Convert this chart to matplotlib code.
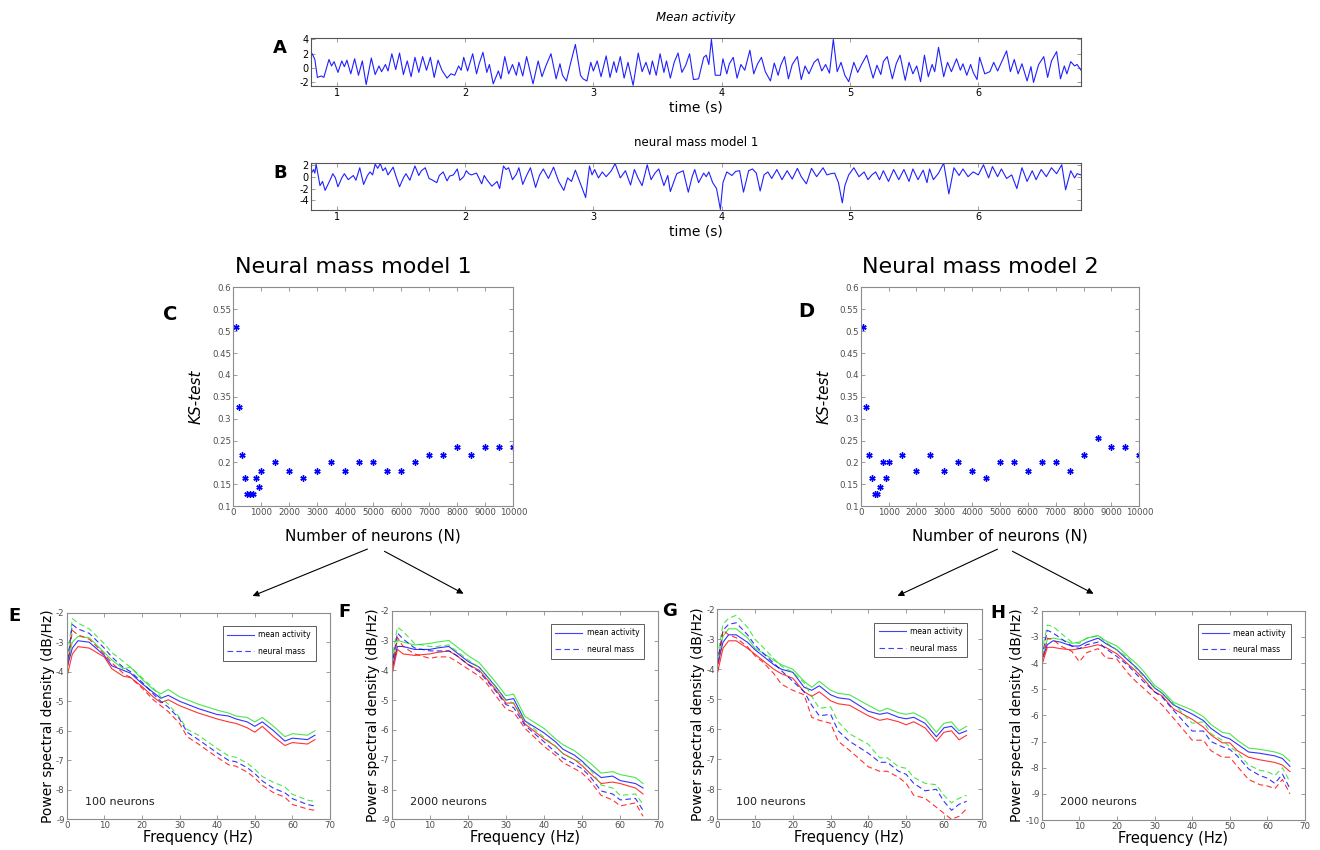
import matplotlib
matplotlib.use("Agg")
import matplotlib.pyplot as plt
import numpy as np
from matplotlib.patches import FancyArrowPatch

plt.rcParams["axes.unicode_minus"] = False

# ---- time traces (s, arbitrary units) ----
t_mean = [0.80, 0.81, 0.83, 0.85, 0.88, 0.90, 0.94, 0.96, 0.98, 1.01, 1.04, 1.06, 1.08, 1.11, 1.14, 1.17,
          1.20, 1.23, 1.27, 1.30, 1.33, 1.35, 1.38, 1.40, 1.43, 1.46, 1.49, 1.52, 1.55, 1.58, 1.61, 1.64,
          1.67, 1.70, 1.73, 1.76, 1.79, 1.82, 1.86, 1.89, 1.92, 1.95, 1.97, 1.99, 2.02, 2.06, 2.09, 2.11,
          2.14, 2.17, 2.19, 2.22, 2.26, 2.28, 2.31, 2.34, 2.37, 2.40, 2.42, 2.45, 2.48, 2.53, 2.57, 2.60,
          2.63, 2.67, 2.71, 2.74, 2.76, 2.79, 2.82, 2.86, 2.90, 2.92, 2.95, 2.98, 3.00, 3.03, 3.06, 3.10,
          3.13, 3.16, 3.18, 3.21, 3.24, 3.27, 3.31, 3.35, 3.38, 3.41, 3.44, 3.46, 3.49, 3.52, 3.55, 3.57,
          3.60, 3.63, 3.66, 3.69, 3.72, 3.75, 3.78, 3.82, 3.86, 3.88, 3.90, 3.92, 3.95, 3.99, 4.01, 4.04,
          4.06, 4.09, 4.12, 4.15, 4.18, 4.22, 4.25, 4.28, 4.31, 4.34, 4.38, 4.41, 4.44, 4.46, 4.49, 4.52,
          4.55, 4.59, 4.62, 4.65, 4.68, 4.72, 4.75, 4.78, 4.81, 4.84, 4.87, 4.90, 4.93, 4.96, 4.99, 5.03,
          5.06, 5.09, 5.13, 5.18, 5.21, 5.24, 5.26, 5.29, 5.33, 5.36, 5.39, 5.43, 5.46, 5.49, 5.52, 5.55,
          5.58, 5.61, 5.64, 5.66, 5.69, 5.73, 5.76, 5.79, 5.83, 5.86, 5.88, 5.91, 5.94, 5.96, 5.99, 6.01,
          6.05, 6.09, 6.12, 6.15, 6.19, 6.22, 6.25, 6.28, 6.31, 6.34, 6.38, 6.41, 6.43, 6.47, 6.51, 6.54,
          6.57, 6.61, 6.64, 6.67, 6.69, 6.72, 6.75, 6.77, 6.80]
v_mean = [1.6, 2.0, 1.2, -1.3, -1.1, -1.3, 1.2, 0.3, 0.9, -0.6, 1.0, 0.2, 1.1, -0.8, 1.3, -1.0,
          1.0, -2.3, 1.4, -0.9, 0.3, -0.5, 0.5, -0.4, 2.0, -0.2, 2.1, -0.9, 1.0, -1.2, 1.5, -0.6,
          1.6, -0.3, 1.5, -1.3, 1.1, -0.3, -1.4, -0.8, -1.0, 0.3, -0.3, 1.5, -0.4, 2.0, -0.8, 0.6,
          2.2, -0.6, 0.5, -2.2, -0.4, -1.5, 1.6, -0.8, 0.5, -1.0, 0.8, -1.1, 1.6, -2.2, 1.0, -1.2,
          0.3, 2.0, -1.5, 0.6, -1.0, -1.8, 0.5, 3.3, -1.0, -1.5, -1.8, 0.8, -0.4, 1.0, -1.2, 1.7,
          -1.3, 0.9, -0.6, 1.6, -1.4, 0.8, -2.4, 2.1, -0.5, 0.8, -0.9, 1.0, -1.0, 2.0, -0.6, 1.0,
          -1.4, 0.8, 2.1, -0.6, 0.4, 2.0, -1.6, -1.5, 1.5, 1.8, 0.5, 4.0, -1.0, -1.0, 1.3, -0.8,
          0.6, 1.5, -1.4, 0.5, -0.3, 2.5, -0.8, 0.6, 1.5, -0.5, -1.8, 0.7, -1.0, 0.4, 1.6, -1.5,
          0.5, 1.6, -1.6, 0.3, -0.8, 0.8, 1.3, -0.4, 0.5, -0.7, 4.0, -0.5, 0.8, -1.0, -1.9, 0.8,
          -0.6, 0.5, 1.8, -1.4, 0.4, -0.9, 0.9, 1.6, -1.5, 0.6, 1.8, -1.7, 0.8, -0.8, 0.3, -1.9,
          1.8, -1.2, 0.5, -0.5, 2.9, -1.2, 0.8, -0.5, 1.3, -0.3, 0.6, -1.0, 0.5, -0.6, -1.6, 1.5,
          -0.8, -0.5, 0.8, -0.4, 1.2, 2.4, -0.5, 1.2, -0.8, 0.6, -1.8, 0.2, -2.0, 0.5, 1.6, -1.3,
          1.0, 2.3, -1.5, 0.3, -0.8, 0.9, 0.3, 0.5, -0.3]

t_nmm = [0.80, 0.82, 0.83, 0.84, 0.87, 0.89, 0.91, 0.95, 0.97, 0.99, 1.01, 1.04, 1.06, 1.09, 1.13, 1.15,
         1.18, 1.21, 1.24, 1.26, 1.28, 1.30, 1.32, 1.34, 1.36, 1.38, 1.40, 1.44, 1.46, 1.49, 1.52, 1.54,
         1.57, 1.61, 1.64, 1.66, 1.69, 1.72, 1.74, 1.78, 1.80, 1.83, 1.86, 1.88, 1.91, 1.94, 1.96, 1.99,
         2.01, 2.03, 2.05, 2.09, 2.13, 2.15, 2.17, 2.21, 2.25, 2.27, 2.30, 2.32, 2.34, 2.37, 2.40, 2.42,
         2.45, 2.48, 2.51, 2.55, 2.58, 2.61, 2.65, 2.69, 2.73, 2.77, 2.80, 2.83, 2.86, 2.90, 2.94, 2.97,
         2.99, 3.01, 3.04, 3.07, 3.10, 3.14, 3.17, 3.21, 3.25, 3.29, 3.32, 3.35, 3.38, 3.42, 3.45, 3.48,
         3.51, 3.55, 3.58, 3.60, 3.65, 3.70, 3.74, 3.77, 3.79, 3.82, 3.86, 3.88, 3.90, 3.93, 3.96, 3.99,
         4.01, 4.04, 4.08, 4.11, 4.14, 4.17, 4.21, 4.24, 4.27, 4.30, 4.33, 4.36, 4.39, 4.43, 4.47, 4.51,
         4.55, 4.59, 4.62, 4.66, 4.70, 4.74, 4.79, 4.82, 4.85, 4.88, 4.91, 4.94, 4.96, 4.99, 5.03, 5.07,
         5.11, 5.14, 5.17, 5.20, 5.23, 5.26, 5.30, 5.34, 5.38, 5.42, 5.46, 5.49, 5.53, 5.57, 5.60, 5.62,
         5.65, 5.69, 5.73, 5.77, 5.81, 5.85, 5.88, 5.92, 5.96, 6.00, 6.04, 6.08, 6.11, 6.15, 6.18, 6.22,
         6.26, 6.30, 6.34, 6.38, 6.42, 6.45, 6.49, 6.53, 6.57, 6.61, 6.65, 6.68, 6.72, 6.75, 6.77, 6.80]
v_nmm = [0.5, 1.2, 0.6, 2.1, -1.5, -0.8, -2.3, -0.5, 0.5, -0.2, -1.7, -0.2, 0.5, -0.5, 0.2, -0.6,
         1.5, -1.3, 0.2, 0.8, 0.3, 2.1, 1.4, 2.2, 1.0, 1.5, 0.3, 1.6, 0.2, -1.7, -0.2, 0.5,
         -0.6, 1.8, 0.2, 1.0, 1.5, -0.3, -0.5, -1.0, 0.2, 0.8, -0.7, 0.1, 0.3, 1.3, -0.6, 0.0,
         1.0, 0.5, 0.3, 0.6, -1.2, 0.2, -0.5, -1.6, -0.8, -2.0, 1.8, 1.2, 1.5, -0.5, 0.4, 1.5,
         -1.3, 0.2, 1.5, -1.8, 0.2, 1.3, -0.3, 1.6, -0.8, -2.3, -0.2, -0.8, 1.1, -1.2, -3.5, 1.8,
         0.3, 1.2, -0.2, 0.8, 0.0, 1.0, 2.2, -0.2, 1.0, -1.4, 1.2, -0.3, -1.5, 2.0, -0.5, 0.6,
         1.3, -1.5, 0.2, -2.5, 0.5, 1.0, -2.6, 0.0, 1.2, -1.0, 0.6, 0.0, 0.8, -1.0, -2.0, -5.5,
         -1.0, 0.8, 0.2, 0.9, 1.0, -2.6, 1.0, 1.3, 0.6, -2.4, 0.3, 0.8, -0.3, 1.2, -0.5, 1.0,
         -0.4, 1.4, 0.0, -1.2, 1.4, 0.0, 1.5, 0.3, 0.5, 0.6, -1.0, -4.4, -1.5, 0.3, 1.5, 0.0,
         0.8, -0.5, 0.3, 0.8, -0.5, 1.0, -0.8, 1.2, -0.5, 1.2, -0.8, 1.3, -0.5, 1.1, -1.0, 1.3,
         -0.5, 0.6, 2.3, -2.9, 1.5, 0.2, 1.3, 0.0, 0.8, 0.3, 2.0, -0.2, 1.7, 0.0, 1.3, -0.3,
         0.3, -2.0, 1.5, -0.8, 1.0, -0.5, 1.2, 0.0, 1.5, 0.5, 2.0, -2.2, 1.0, -0.2, 0.5, 0.3]

# ---- KS-test vs number of neurons ----
n_neurons = [100, 200, 300, 400, 500, 600, 700, 800, 900, 1000, 1500, 2000, 2500, 3000, 3500, 4000,
             4500, 5000, 5500, 6000, 6500, 7000, 7500, 8000, 8500, 9000, 9500, 10000]
ks_model1 = [0.51, 0.327, 0.218, 0.164, 0.127, 0.127, 0.127, 0.164, 0.145, 0.18, 0.2, 0.18, 0.164, 0.18,
             0.2, 0.18, 0.2, 0.2, 0.18, 0.18, 0.2, 0.218, 0.218, 0.236, 0.218, 0.236, 0.236, 0.236]
ks_model2 = [0.509, 0.327, 0.218, 0.164, 0.127, 0.127, 0.145, 0.2, 0.164, 0.2, 0.218, 0.18, 0.218, 0.18,
             0.2, 0.18, 0.164, 0.2, 0.2, 0.18, 0.2, 0.2, 0.18, 0.218, 0.255, 0.236, 0.236, 0.218]

# ---- power spectral densities (dB/Hz) ----
freq_ef = [0, 1.5, 3, 6, 10, 12, 15, 17, 20, 23, 25, 27, 30, 32, 35, 40, 43, 45, 48, 50, 52, 55, 58, 60, 64, 66]
freq_gh = [0, 1.5, 3, 5, 8, 10, 12, 15, 17, 20, 23, 25, 27, 30, 32, 35, 40, 43, 45, 48, 50, 52, 55, 58, 60, 62, 64, 66]

# E: model 1, 100 neurons
e_mean_g = [-3.8, -3.0, -2.8, -2.85, -3.35, -3.6, -3.9, -3.85, -4.25, -4.6, -4.75, -4.6, -4.85, -4.95, -5.1, -5.3,
            -5.4, -5.5, -5.55, -5.7, -5.55, -5.85, -6.2, -6.1, -6.15, -6.0]
e_mean_b = [-3.9, -3.2, -2.95, -3.0, -3.45, -3.8, -3.95, -4.05, -4.4, -4.7, -4.9, -4.8, -5.0, -5.1, -5.25, -5.45,
            -5.5, -5.6, -5.7, -5.85, -5.7, -6.0, -6.35, -6.25, -6.3, -6.15]
e_mean_r = [-4.2, -3.4, -3.15, -3.2, -3.5, -3.9, -4.15, -4.2, -4.5, -4.85, -5.05, -4.95, -5.15, -5.25, -5.4, -5.6,
            -5.7, -5.75, -5.9, -6.05, -5.85, -6.2, -6.5, -6.4, -6.45, -6.3]
e_nm_g = [-3.7, -2.2, -2.35, -2.55, -3.05, -3.35, -3.65, -3.85, -4.2, -4.55, -4.85, -5.1, -5.55, -5.95, -6.15, -6.6,
          -6.85, -6.9, -7.1, -7.3, -7.55, -7.75, -7.9, -8.15, -8.35, -8.4]
e_nm_b = [-3.9, -2.4, -2.55, -2.7, -3.2, -3.5, -3.85, -4.0, -4.35, -4.75, -5.0, -5.2, -5.6, -6.05, -6.3, -6.75,
          -7.0, -7.05, -7.25, -7.45, -7.7, -7.95, -8.1, -8.3, -8.5, -8.55]
e_nm_r = [-4.1, -2.6, -2.75, -2.9, -3.4, -3.7, -4.05, -4.2, -4.55, -4.95, -5.15, -5.35, -5.75, -6.2, -6.45, -6.9,
          -7.15, -7.2, -7.4, -7.6, -7.85, -8.1, -8.25, -8.5, -8.65, -8.7]

# F: model 1, 2000 neurons
f_mean_g = [-3.8, -3.0, -3.05, -3.15, -3.1, -3.05, -3.0, -3.2, -3.5, -3.75, -4.05, -4.35, -4.85, -4.8, -5.55, -5.95,
            -6.3, -6.5, -6.7, -6.9, -7.1, -7.45, -7.4, -7.5, -7.6, -7.8]
f_mean_b = [-4.0, -3.2, -3.2, -3.3, -3.3, -3.25, -3.2, -3.4, -3.7, -3.9, -4.2, -4.5, -5.0, -4.95, -5.7, -6.1,
            -6.4, -6.65, -6.85, -7.05, -7.3, -7.6, -7.55, -7.7, -7.8, -7.95]
f_mean_r = [-4.2, -3.3, -3.45, -3.5, -3.45, -3.4, -3.35, -3.5, -3.8, -4.0, -4.3, -4.6, -5.1, -5.1, -5.8, -6.3,
            -6.55, -6.8, -7.0, -7.2, -7.45, -7.8, -7.75, -7.8, -7.95, -8.15]
f_nm_g = [-3.7, -2.55, -2.7, -3.1, -3.2, -3.2, -3.15, -3.35, -3.65, -3.9, -4.2, -4.5, -5.0, -5.1, -5.7, -6.25,
          -6.55, -6.8, -7.0, -7.1, -7.3, -7.85, -7.95, -8.2, -8.15, -8.5]
f_nm_b = [-3.9, -2.75, -2.95, -3.25, -3.35, -3.35, -3.35, -3.5, -3.8, -4.05, -4.35, -4.65, -5.15, -5.25, -5.85, -6.4,
          -6.75, -6.95, -7.15, -7.3, -7.55, -8.05, -8.15, -8.35, -8.3, -8.7]
f_nm_r = [-4.15, -2.9, -3.2, -3.45, -3.6, -3.55, -3.55, -3.7, -3.95, -4.2, -4.45, -4.8, -5.3, -5.4, -5.95, -6.55,
          -6.85, -7.1, -7.3, -7.45, -7.7, -8.2, -8.35, -8.55, -8.45, -8.9]

# G: model 2, 100 neurons
g_mean_g = [-3.7, -2.9, -2.65, -2.65, -2.95, -3.3, -3.45, -3.7, -3.85, -4.0, -4.4, -4.6, -4.4, -4.7, -4.8, -4.85,
            -5.2, -5.4, -5.3, -5.45, -5.5, -5.45, -5.65, -6.1, -5.8, -5.75, -6.05, -5.9]
g_mean_b = [-3.9, -3.1, -2.85, -2.85, -3.1, -3.35, -3.55, -3.85, -4.0, -4.1, -4.6, -4.7, -4.55, -4.85, -4.95, -5.0,
            -5.4, -5.5, -5.45, -5.6, -5.65, -5.6, -5.8, -6.25, -5.95, -5.9, -6.15, -6.05]
g_mean_r = [-4.15, -3.3, -3.05, -3.05, -3.3, -3.5, -3.7, -4.0, -4.15, -4.3, -4.75, -4.9, -4.75, -5.05, -5.15, -5.2,
            -5.55, -5.7, -5.65, -5.75, -5.85, -5.75, -5.95, -6.4, -6.1, -6.05, -6.35, -6.2]
g_nm_g = [-3.6, -2.5, -2.3, -2.2, -2.6, -3.0, -3.25, -3.65, -3.9, -4.1, -4.45, -4.9, -5.3, -5.25, -5.75, -6.15,
          -6.5, -6.95, -6.95, -7.25, -7.3, -7.6, -7.8, -7.85, -8.2, -8.45, -8.3, -8.2]
g_nm_b = [-3.8, -2.7, -2.5, -2.45, -2.85, -3.2, -3.45, -3.8, -4.05, -4.4, -4.75, -5.2, -5.55, -5.5, -6.05, -6.4,
          -6.8, -7.1, -7.1, -7.4, -7.5, -7.8, -8.05, -8.0, -8.4, -8.7, -8.5, -8.4]
g_nm_r = [-4.1, -2.7, -2.85, -2.95, -3.25, -3.55, -3.75, -4.15, -4.5, -4.7, -4.85, -5.6, -5.7, -5.8, -6.4, -6.7,
          -7.25, -7.4, -7.4, -7.6, -7.8, -8.2, -8.3, -8.6, -8.8, -9.0, -8.9, -8.65]

# H: model 2, 2000 neurons
h_mean_g = [-3.8, -3.1, -3.05, -3.1, -3.25, -3.2, -3.05, -2.95, -3.15, -3.35, -3.75, -4.0, -4.3, -4.85, -5.05, -5.5,
            -5.8, -6.05, -6.35, -6.65, -6.7, -6.95, -7.25, -7.3, -7.35, -7.4, -7.5, -7.75]
h_mean_b = [-3.9, -3.3, -3.15, -3.2, -3.35, -3.35, -3.2, -3.05, -3.25, -3.5, -3.9, -4.15, -4.45, -4.95, -5.15, -5.6,
            -5.95, -6.2, -6.5, -6.8, -6.9, -7.1, -7.4, -7.45, -7.5, -7.55, -7.65, -7.95]
h_mean_r = [-4.1, -3.4, -3.4, -3.45, -3.5, -3.45, -3.4, -3.3, -3.4, -3.65, -4.05, -4.3, -4.6, -5.1, -5.25, -5.75,
            -6.15, -6.45, -6.75, -7.05, -7.05, -7.35, -7.6, -7.7, -7.75, -7.8, -7.9, -8.15]
h_nm_g = [-3.6, -2.55, -2.6, -2.85, -3.2, -3.25, -3.05, -2.95, -3.2, -3.5, -3.8, -4.2, -4.5, -4.95, -5.15, -5.55,
          -6.3, -6.25, -6.7, -6.95, -7.2, -7.4, -7.9, -8.1, -8.15, -8.3, -8.0, -8.55]
h_nm_b = [-3.8, -2.75, -2.85, -3.05, -3.35, -3.45, -3.3, -3.2, -3.45, -3.75, -4.1, -4.4, -4.7, -5.1, -5.3, -5.8,
          -6.6, -6.6, -7.0, -7.2, -7.3, -7.55, -8.05, -8.3, -8.4, -8.6, -8.25, -8.8]
h_nm_r = [-4.1, -3.05, -3.1, -3.35, -3.55, -3.95, -3.6, -3.45, -3.8, -3.85, -4.4, -4.7, -4.95, -5.35, -5.6, -6.1,
          -6.95, -6.95, -7.35, -7.6, -7.6, -7.95, -8.45, -8.65, -8.7, -8.8, -8.45, -9.0]

GREEN = "#1fe01f"
TRACE = "#2020ff"
TICK_GREY = "#4d4d4d"
FRAME = "#8c8c8c"


def matlab_box(ax, fs=6.5, color=TICK_GREY):
    for s in ax.spines.values():
        s.set_color(FRAME)
        s.set_linewidth(0.8)
    ax.tick_params(direction="in", top=True, right=True, length=3, width=0.6,
                   color=FRAME, labelsize=fs, labelcolor=color, pad=1.5)


fig = plt.figure(figsize=(13.2, 8.5), dpi=100)
W, H = 1320.0, 850.0


def px_axes(left, top, right, bottom):
    return fig.add_axes([left / W, 1 - bottom / H, (right - left) / W, (bottom - top) / H])


# ---- A / B: time series ----
for (top, bottom, t, v, ylim, yt, title, italic, letter) in [
        (38, 86, t_mean, v_mean, (-2.5, 4.2), [-2, 0, 2, 4], "Mean activity", True, "A"),
        (163, 210, t_nmm, v_nmm, (-5.6, 2.3), [-4, -2, 0, 2], "neural mass model 1", False, "B")]:
    ax = px_axes(311, top, 1081, bottom)
    ax.plot(t, v, color=TRACE, lw=0.8)
    ax.set_xlim(0.8, 6.8)
    ax.set_ylim(*ylim)
    ax.set_yticks(yt)
    ax.set_xticks([1, 2, 3, 4, 5, 6])
    matlab_box(ax, fs=7, color="black")
    for s in ax.spines.values():
        s.set_color("#555555")
    ax.set_xlabel("time (s)", fontsize=10, labelpad=2)
    ax.set_title(title, fontsize=8.5, style="italic" if italic else "normal", pad=12)
    fig.text(280 / W, 1 - (top + 10) / H, letter, fontsize=13, fontweight="heavy", ha="center", va="center")

# ---- C / D: KS-test ----
for (left, right, ks, title, letter, lx, ly) in [
        (233.3, 513.3, ks_model1, "Neural mass model 1", "C", 170, 314),
        (860.7, 1139.3, ks_model2, "Neural mass model 2", "D", 806, 311)]:
    ax = px_axes(left, 287.3, right, 506.3)
    ax.plot(n_neurons, ks, linestyle="none", marker=(6, 2, 0), ms=4.5, mew=1.0, color="b")
    ax.set_xlim(0, 10000)
    ax.set_ylim(0.1, 0.6)
    ax.set_xticks(np.arange(0, 10001, 1000))
    ax.set_xticklabels([str(x) for x in range(0, 10001, 1000)])
    ax.set_yticks(np.arange(0.1, 0.601, 0.05))
    ax.set_yticklabels(["0.1", "0.15", "0.2", "0.25", "0.3", "0.35", "0.4", "0.45", "0.5", "0.55", "0.6"])
    matlab_box(ax, fs=6.2)
    ax.set_ylabel("KS-test", fontsize=11, style="italic", labelpad=6)
    ax.set_xlabel("Number of neurons (N)", fontsize=11, labelpad=8)
    ax.set_title(title, fontsize=16, pad=10, x=0.43)
    fig.text(lx / W, 1 - ly / H, letter, fontsize=14, fontweight="heavy", ha="center", va="center")

# arrows from the KS panels down to the spectra
for (x0, y0, x1, y1) in [(370, 548, 250, 597), (382, 550, 466, 595),
                         (1000, 548, 895, 597), (1010, 550, 1096, 595)]:
    fig.add_artist(FancyArrowPatch((x0 / W, 1 - y0 / H), (x1 / W, 1 - y1 / H),
                                   transform=fig.transFigure, arrowstyle="-|>",
                                   mutation_scale=9, lw=0.8, color="black"))

# ---- E-H: power spectra ----
panels = [
    ((66.7, 612.7, 330.0, 819.3), freq_ef, (e_mean_g, e_mean_b, e_mean_r), (e_nm_g, e_nm_b, e_nm_r),
     (-9, -2), "100 neurons", "E", (15, 616)),
    ((391.7, 610.7, 658.3, 819.3), freq_ef, (f_mean_g, f_mean_b, f_mean_r), (f_nm_g, f_nm_b, f_nm_r),
     (-9, -2), "2000 neurons", "F", (344, 612)),
    ((717.3, 609.3, 981.7, 819.3), freq_gh, (g_mean_g, g_mean_b, g_mean_r), (g_nm_g, g_nm_b, g_nm_r),
     (-9, -2), "100 neurons", "G", (670, 611)),
    ((1041.7, 610.7, 1305.0, 820.0), freq_gh, (h_mean_g, h_mean_b, h_mean_r), (h_nm_g, h_nm_b, h_nm_r),
     (-10, -2), "2000 neurons", "H", (998, 613)),
]
for (box, fr, solid, dashed, ylim, note, letter, lpos) in panels:
    ax = px_axes(*box)
    colors = [GREEN, "b", "r"]
    for c, ys in zip(colors, solid):
        ax.plot(fr, ys, color=c, lw=0.8, alpha=0.8)
    for c, ys in zip(colors, dashed):
        ax.plot(fr, ys, color=c, lw=0.8, ls=(0, (5, 3)), alpha=0.8)
    h1, = ax.plot([], [], color="#4040ff", lw=0.8, label="mean activity")
    h2, = ax.plot([], [], color="#4040ff", lw=0.8, ls=(0, (5, 3)), label="neural mass")
    ax.set_xlim(0, 70)
    ax.set_ylim(*ylim)
    ax.set_xticks(range(0, 71, 10))
    ax.set_yticks(range(ylim[0], ylim[1] + 1))
    matlab_box(ax, fs=6.2)
    ax.set_xlabel("Frequency (Hz)", fontsize=10.5, labelpad=0)
    ax.set_ylabel("Power spectral density (dB/Hz)", fontsize=10, labelpad=1)
    leg = ax.legend(handles=[h1, h2], loc="upper right", bbox_to_anchor=(0.96, 0.955),
                    fontsize=5.5, frameon=True, fancybox=False, handlelength=3.5,
                    borderpad=0.6, labelspacing=1.0, handletextpad=0.6)
    leg.get_frame().set_edgecolor("#333333")
    leg.get_frame().set_linewidth(0.7)
    ax.text(0.07, 0.07, note, transform=ax.transAxes, fontsize=8, color="#222222")
    fig.text(lpos[0] / W, 1 - lpos[1] / H, letter, fontsize=13, fontweight="heavy", ha="center", va="center")

fig.savefig("out.png", dpi=100)
